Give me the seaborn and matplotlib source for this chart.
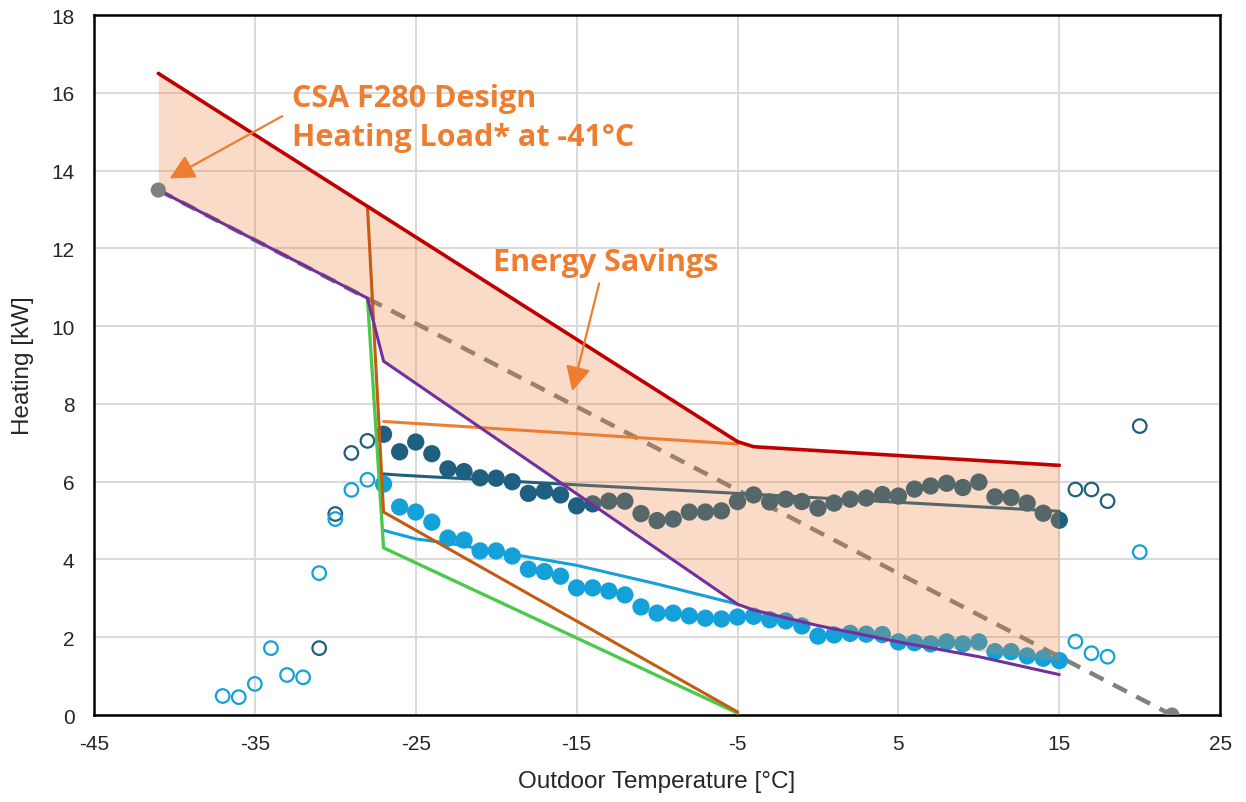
import numpy as np
import pandas as pd
import matplotlib
matplotlib.use("Agg")
import matplotlib.pyplot as plt
import seaborn as sns

# ---- data -------------------------------------------------------------
# Binned measured heat output (filled = used, open = excluded)
bin_temp = list(range(-27, 16))
dark_meas = [7.22, 6.77, 7.02, 6.72, 6.33, 6.26, 6.10, 6.09, 6.00, 5.70,
             5.76, 5.66, 5.38, 5.43, 5.50, 5.50, 5.18, 5.00, 5.04, 5.22,
             5.22, 5.25, 5.49, 5.66, 5.48, 5.55, 5.49, 5.32, 5.45, 5.55,
             5.58, 5.67, 5.63, 5.81, 5.89, 5.96, 5.85, 5.99, 5.61, 5.59,
             5.45, 5.19, 5.01]
light_meas = [5.94, 5.35, 5.22, 4.96, 4.55, 4.50, 4.22, 4.22, 4.09, 3.75,
              3.69, 3.57, 3.27, 3.27, 3.19, 3.09, 2.78, 2.62, 2.62, 2.55,
              2.49, 2.47, 2.52, 2.54, 2.45, 2.42, 2.29, 2.03, 2.06, 2.10,
              2.08, 2.07, 1.88, 1.86, 1.83, 1.88, 1.83, 1.88, 1.63, 1.63,
              1.52, 1.46, 1.40]

dark_excl_temp = [-31, -30, -29, -28, 16, 17, 18, 20]
dark_excl = [1.72, 5.17, 6.74, 7.05, 5.80, 5.80, 5.50, 7.43]
light_excl_temp = [-37, -36, -35, -34, -33, -32, -31, -30, -29, -28, 16, 17, 18, 20]
light_excl = [0.49, 0.46, 0.80, 1.72, 1.03, 0.97, 3.65, 5.04, 5.79, 6.05,
              1.89, 1.59, 1.50, 4.19]

# Design heating load line (CSA F280) and its end points
design_temp = [-41, 22]
design_kw = [13.5, 0.0]

# Modelled curves
backup_temp = [-41, -5, -4, 15]
backup_kw = [16.5, 7.03, 6.90, 6.42]

hp_temp = [-41, -28, -27, -5, -4, 0, 5, 10, 15]
hp_kw = [13.5, 10.72, 9.10, 2.85, 2.70, 2.30, 1.88, 1.50, 1.04]

green_temp = [-28, -27, -5]
green_kw = [10.72, 4.30, 0.05]

rust_temp = [-28, -27, -5]
rust_kw = [13.08, 5.22, 0.08]

orange_temp = [-27, -5]
orange_kw = [7.55, 6.97]

dark_fit_temp = [-27, -26, -15, -5, 5, 15]
dark_fit_kw = [6.20, 6.17, 5.92, 5.70, 5.47, 5.24]

light_fit_temp = [-27, -25, -23, -15, -10, -5]
light_fit_kw = [4.75, 4.53, 4.42, 3.85, 3.37, 2.85]

# Lower edge of the savings band
floor_temp = [-41, -28, -27, -5, -4, 0, 5, 15]
floor_kw = [13.5, 10.72, 9.10, 2.85, 2.70, 2.30, 1.88, 1.40]

x_ticks = [-45, -35, -25, -15, -5, 5, 15, 25]
y_ticks = list(range(0, 19, 2))

# ---- style ------------------------------------------------------------
sns.set_style("white")
plt.rcParams["font.family"] = ["Liberation Sans", "DejaVu Sans"]

C_DARK = "#1F5F7F"
C_LIGHT = "#14A0D8"
C_ORANGE = "#ED7D31"

fig = plt.figure(figsize=(12.46, 8.03), dpi=100)
ax = fig.add_axes([0.0754, 0.1083, 0.9039, 0.8717])

# design load (dashed) under the shaded band
sns.lineplot(x=design_temp, y=design_kw, ax=ax, color="#808080", lw=3.2,
             zorder=1.5).lines[-1].set_dashes([3.5, 2.4])

# measured points
sns.scatterplot(x=bin_temp, y=dark_meas, ax=ax, color=C_DARK, s=155,
                edgecolor="none", zorder=2)
sns.scatterplot(x=bin_temp, y=light_meas, ax=ax, color=C_LIGHT, s=155,
                edgecolor="none", zorder=2)
sns.scatterplot(x=dark_excl_temp, y=dark_excl, ax=ax, facecolor="none",
                edgecolor=C_DARK, linewidth=1.6, s=95, zorder=2)
sns.scatterplot(x=light_excl_temp, y=light_excl, ax=ax, facecolor="none",
                edgecolor=C_LIGHT, linewidth=1.6, s=95, zorder=2)

sns.lineplot(x=dark_fit_temp, y=dark_fit_kw, ax=ax, color=C_DARK, lw=2.2,
             zorder=2.5)

# savings band
band_x = np.union1d(backup_temp, floor_temp)
band_x = band_x[(band_x >= -41) & (band_x <= 15)]
ax.fill_between(band_x, np.interp(band_x, floor_temp, floor_kw),
                np.interp(band_x, backup_temp, backup_kw),
                color=C_ORANGE, alpha=0.27, lw=0, zorder=3)

# curves over the band
sns.lineplot(x=light_fit_temp, y=light_fit_kw, ax=ax, color=C_LIGHT, lw=2.2, zorder=4)
sns.lineplot(x=green_temp, y=green_kw, ax=ax, color="#4CC94C", lw=2.4, zorder=4)
sns.lineplot(x=rust_temp, y=rust_kw, ax=ax, color="#C55A11", lw=2.2, zorder=4)
sns.lineplot(x=orange_temp, y=orange_kw, ax=ax, color=C_ORANGE, lw=2.2, zorder=4)
sns.lineplot(x=hp_temp, y=hp_kw, ax=ax, color="#7030A0", lw=2.2, zorder=4.2)
sns.lineplot(x=backup_temp, y=backup_kw, ax=ax, color="#C00000", lw=2.6, zorder=4.3)

sns.scatterplot(x=design_temp, y=design_kw, ax=ax, color="#808080", s=120,
                edgecolor="none", zorder=5)

# annotations
ann_font = dict(family=["Open Sans", "DejaVu Sans"], weight="bold",
                color=C_ORANGE, fontsize=22)
arrow = dict(arrowstyle="-|>,head_length=0.75,head_width=0.38",
             color=C_ORANGE, lw=1.6, shrinkA=0, shrinkB=0, mutation_scale=20)

ax.text(-32.7, 16.25, "CSA F280 Design\nHeating Load* at -41°C",
        ha="left", va="top", linespacing=1.4, zorder=6, **ann_font)
ax.annotate("", xy=(-40.3, 13.8), xytext=(-33.3, 15.4),
            arrowprops=arrow, zorder=6)

ax.text(-20.2, 11.65, "Energy Savings", ha="left", va="center",
        zorder=6, **ann_font)
ax.annotate("", xy=(-15.27, 8.33), xytext=(-13.6, 11.1),
            arrowprops=arrow, zorder=6)

# axes
ax.set_xlim(-45, 25)
ax.set_ylim(0, 18)
ax.set_xticks(x_ticks)
ax.set_yticks(y_ticks)
ax.set_xticklabels([str(v) for v in x_ticks])
ax.grid(True, color="#D9D9D9", lw=1.4, zorder=0)
ax.set_axisbelow(True)
for sp in ax.spines.values():
    sp.set_visible(True)
    sp.set_color("black")
    sp.set_linewidth(1.8)
ax.tick_params(direction="in", length=6, width=1.6, colors="black",
               labelsize=15, pad=14, labelcolor="#262626")
ax.set_xlabel("Outdoor Temperature [°C]", fontsize=17.5, color="#262626", labelpad=12)
ax.set_ylabel("Heating [kW]", fontsize=17.5, color="#262626", labelpad=12)

fig.savefig("out.png", dpi=100)
